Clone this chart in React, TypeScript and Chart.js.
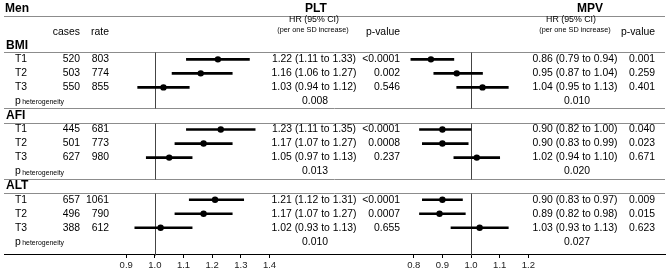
import React, { useEffect, useRef } from "react";
import { Chart, registerables } from "chart.js";

Chart.register(...registerables);

// ---------------- data ----------------
const sexLabel = "Men";
const groups = ["BMI", "AFI", "ALT"];
const tertiles = ["T1", "T2", "T3"];
const cases = [520, 503, 550, 445, 501, 627, 657, 496, 388];
const rates = [803, 774, 855, 681, 773, 980, 1061, 790, 612];
const pltHR = [1.22, 1.16, 1.03, 1.23, 1.17, 1.05, 1.21, 1.17, 1.02];
const pltLo = [1.11, 1.06, 0.94, 1.11, 1.07, 0.97, 1.12, 1.07, 0.93];
const pltHi = [1.33, 1.27, 1.12, 1.35, 1.27, 1.13, 1.31, 1.27, 1.13];
const pltP = ["<0.0001", "0.002", "0.546", "<0.0001", "0.0008", "0.237", "<0.0001", "0.0007", "0.655"];
const pltHet = ["0.008", "0.013", "0.010"];
const mpvHR = [0.86, 0.95, 1.04, 0.9, 0.9, 1.02, 0.9, 0.89, 1.03];
const mpvLo = [0.79, 0.87, 0.95, 0.82, 0.83, 0.94, 0.83, 0.82, 0.93];
const mpvHi = [0.94, 1.04, 1.13, 1.0, 0.99, 1.1, 0.97, 0.98, 1.13];
const mpvP = ["0.001", "0.259", "0.401", "0.040", "0.023", "0.671", "0.009", "0.015", "0.623"];
const mpvHet = ["0.010", "0.020", "0.027"];
const pltTicks = [0.9, 1.0, 1.1, 1.2, 1.3, 1.4];
const mpvTicks = [0.8, 0.9, 1.0, 1.1, 1.2];
const panelTitles = ["PLT", "MPV"];
const hrHeader = "HR (95% CI)";
const hrSubHeader = "(per one SD increase)";
const pHeader = "p-value";
const casesHeader = "cases";
const rateHeader = "rate";
const hetLabel = "p";
const hetSub = "heterogeneity";

// ---------------- layout ----------------
const W = 669;
const H = 274;
const PX_PER_UNIT = 290;
const PLT_REF_PX = 152.7;
const MPV_REF_PX = 472.7;
const ROW_PX = 14.46;
const ROW1_PX = 57;
const Y_MIN = 1 - ROW1_PX / ROW_PX;
const Y_MAX = Y_MIN + H / ROW_PX;
const AXIS_ROW = 14.92;
const FONT = '"Liberation Sans", Arial, Helvetica, sans-serif';
const SEP_COLOR = "#8c8c8c";
const REF_COLOR = "#444";

const rowOf = (g: number, k: number) => g * 5 + k; // k: 0 header, 1..3 tertiles, 4 heterogeneity

export default function App() {
  const ref = useRef<HTMLCanvasElement>(null);

  useEffect(() => {
    document.body.style.margin = "0";
    const canvas = ref.current;
    if (!canvas) return;

    const pltBars: any[] = [];
    const mpvBars: any[] = [];
    const pltPts: any[] = [];
    const mpvPts: any[] = [];
    groups.forEach((_, gi) =>
      tertiles.forEach((__, ti) => {
        const i = gi * 3 + ti;
        const y = rowOf(gi, ti + 1);
        pltBars.push({ y, x: [pltLo[i], pltHi[i]] });
        mpvBars.push({ y, x: [mpvLo[i], mpvHi[i]] });
        pltPts.push({ x: pltHR[i], y });
        mpvPts.push({ x: mpvHR[i], y });
      })
    );

    const fmt = (v: number) => v.toFixed(2);

    const tablePlugin = {
      id: "forestTable",
      beforeDatasetsDraw(chart: any) {
        const { ctx, chartArea, scales } = chart;
        const ys = scales.y;
        const xp = scales.xp;
        const xm = scales.xm;
        const py = (v: number) => ys.getPixelForValue(v);
        const hline = (v: number) => {
          const p = Math.round(py(v)) + 0.5;
          ctx.beginPath();
          ctx.moveTo(chartArea.left, p);
          ctx.lineTo(chartArea.right, p);
          ctx.stroke();
        };
        ctx.save();
        ctx.lineWidth = 1;
        ctx.strokeStyle = SEP_COLOR;
        [-2.11, 0.5, 4.5, 5.5, 9.5, 10.5].forEach(hline);

        // reference lines at HR = 1
        ctx.strokeStyle = REF_COLOR;
        groups.forEach((_, gi) => {
          const top = rowOf(gi, 0.5);
          const bot = gi === groups.length - 1 ? AXIS_ROW : rowOf(gi, 4.5);
          [xp, xm].forEach((sc: any) => {
            const x = Math.round(sc.getPixelForValue(1)) + 0.5;
            ctx.beginPath();
            ctx.moveTo(x, Math.round(py(top)) + 0.5);
            ctx.lineTo(x, Math.round(py(bot)) + 0.5);
            ctx.stroke();
          });
        });
        ctx.restore();
      },
      afterDatasetsDraw(chart: any) {
        const { ctx, scales } = chart;
        const ys = scales.y;
        const py = (v: number) => ys.getPixelForValue(v);
        const text = (s: string, x: number, y: number, align: CanvasTextAlign, font: string) => {
          ctx.font = font;
          ctx.textAlign = align;
          ctx.fillText(s, x, y);
        };
        const body = `10.4px ${FONT}`;
        const bold = `bold 12px ${FONT}`;
        const small = `7.3px ${FONT}`;
        const hdr = `8.8px ${FONT}`;
        ctx.save();
        ctx.fillStyle = "#000";
        ctx.textBaseline = "middle";

        // header
        text(sexLabel, 5, py(-2.61), "left", bold);
        text(panelTitles[0], 316, py(-2.61), "center", bold);
        text(panelTitles[1], 590, py(-2.61), "center", bold);
        text(casesHeader, 80, py(-0.97), "right", body);
        text(rateHeader, 109, py(-0.97), "right", body);
        text(hrHeader, 314, py(-1.8), "center", hdr);
        text(hrSubHeader, 313, py(-1.08), "center", small);
        text(pHeader, 400, py(-0.97), "right", body);
        text(hrHeader, 571, py(-1.8), "center", hdr);
        text(hrSubHeader, 575, py(-1.08), "center", small);
        text(pHeader, 655, py(-0.97), "right", body);

        groups.forEach((g, gi) => {
          text(g, 6, py(rowOf(gi, 0)), "left", bold);
          tertiles.forEach((t, ti) => {
            const i = gi * 3 + ti;
            const y = py(rowOf(gi, ti + 1));
            text(t, 15, y, "left", body);
            text(String(cases[i]), 80, y, "right", body);
            text(String(rates[i]), 109, y, "right", body);
            text(`${fmt(pltHR[i])} (${fmt(pltLo[i])} to ${fmt(pltHi[i])})`, 314, y, "center", body);
            text(pltP[i], 400, y, "right", body);
            text(`${fmt(mpvHR[i])} (${fmt(mpvLo[i])} to ${fmt(mpvHi[i])})`, 575, y, "center", body);
            text(mpvP[i], 655, y, "right", body);
          });
          const yh = py(rowOf(gi, 4));
          ctx.font = body;
          ctx.textAlign = "left";
          ctx.fillText(hetLabel, 15, yh);
          const pw = ctx.measureText(hetLabel).width;
          text(hetSub, 15 + pw + 1.5, yh + 1, "left", `6.9px ${FONT}`);
          text(pltHet[gi], 315, yh, "center", body);
          text(mpvHet[gi], 577, yh, "center", body);
        });
        ctx.restore();
      },
    };

    const axisCommon = (ticks: number[]) => ({
      type: "linear",
      axis: "x",
      position: { y: AXIS_ROW },
      beginAtZero: false,
      offset: false,
      afterBuildTicks: (s: any) => {
        s.ticks = ticks.map((v) => ({ value: v }));
      },
      ticks: {
        autoSkip: false,
        maxRotation: 0,
        padding: 2,
        color: "#222",
        font: { family: FONT, size: 9.5 },
        callback: (v: any) => Number(v).toFixed(1),
      },
      grid: { display: true, drawOnChartArea: false, drawTicks: true, tickLength: 3, color: "#000" },
      border: { display: true, color: "#000", width: 1 },
    });

    const pointStyle = {
      type: "scatter",
      yAxisID: "y",
      order: 0,
      pointRadius: 3.2,
      pointBackgroundColor: "#000",
      pointBorderWidth: 0,
      showLine: false,
    };
    const barStyle = {
      type: "bar",
      indexAxis: "y",
      yAxisID: "y",
      order: 1,
      grouped: false,
      barThickness: 2,
      backgroundColor: "#000",
      borderWidth: 0,
      borderSkipped: false,
    };

    const chart = new Chart(canvas, {
      type: "scatter",
      data: {
        datasets: [
          { ...pointStyle, data: pltPts, xAxisID: "xp" },
          { ...pointStyle, data: mpvPts, xAxisID: "xm" },
          { ...barStyle, data: pltBars, xAxisID: "xp" },
          { ...barStyle, data: mpvBars, xAxisID: "xm" },
        ] as any,
      },
      options: {
        responsive: false,
        animation: false,
        devicePixelRatio: 1,
        events: [],
        layout: { padding: 0 },
        plugins: { legend: { display: false }, tooltip: { enabled: false }, title: { display: false } },
        scales: {
          xp: {
            ...axisCommon(pltTicks),
            min: 1 - PLT_REF_PX / PX_PER_UNIT,
            max: 1 - PLT_REF_PX / PX_PER_UNIT + W / PX_PER_UNIT,
          },
          xm: {
            ...axisCommon(mpvTicks),
            min: 1 - MPV_REF_PX / PX_PER_UNIT,
            max: 1 - MPV_REF_PX / PX_PER_UNIT + W / PX_PER_UNIT,
          },
          y: {
            type: "linear",
            axis: "y",
            display: false,
            reverse: true,
            offset: false,
            min: Y_MIN,
            max: Y_MAX,
          },
        } as any,
      },
      plugins: [tablePlugin as any],
    });

    return () => chart.destroy();
  }, []);

  return (
    <div style={{ width: W, height: H }}>
      <canvas ref={ref} width={W} height={H} style={{ display: "block" }} />
    </div>
  );
}
